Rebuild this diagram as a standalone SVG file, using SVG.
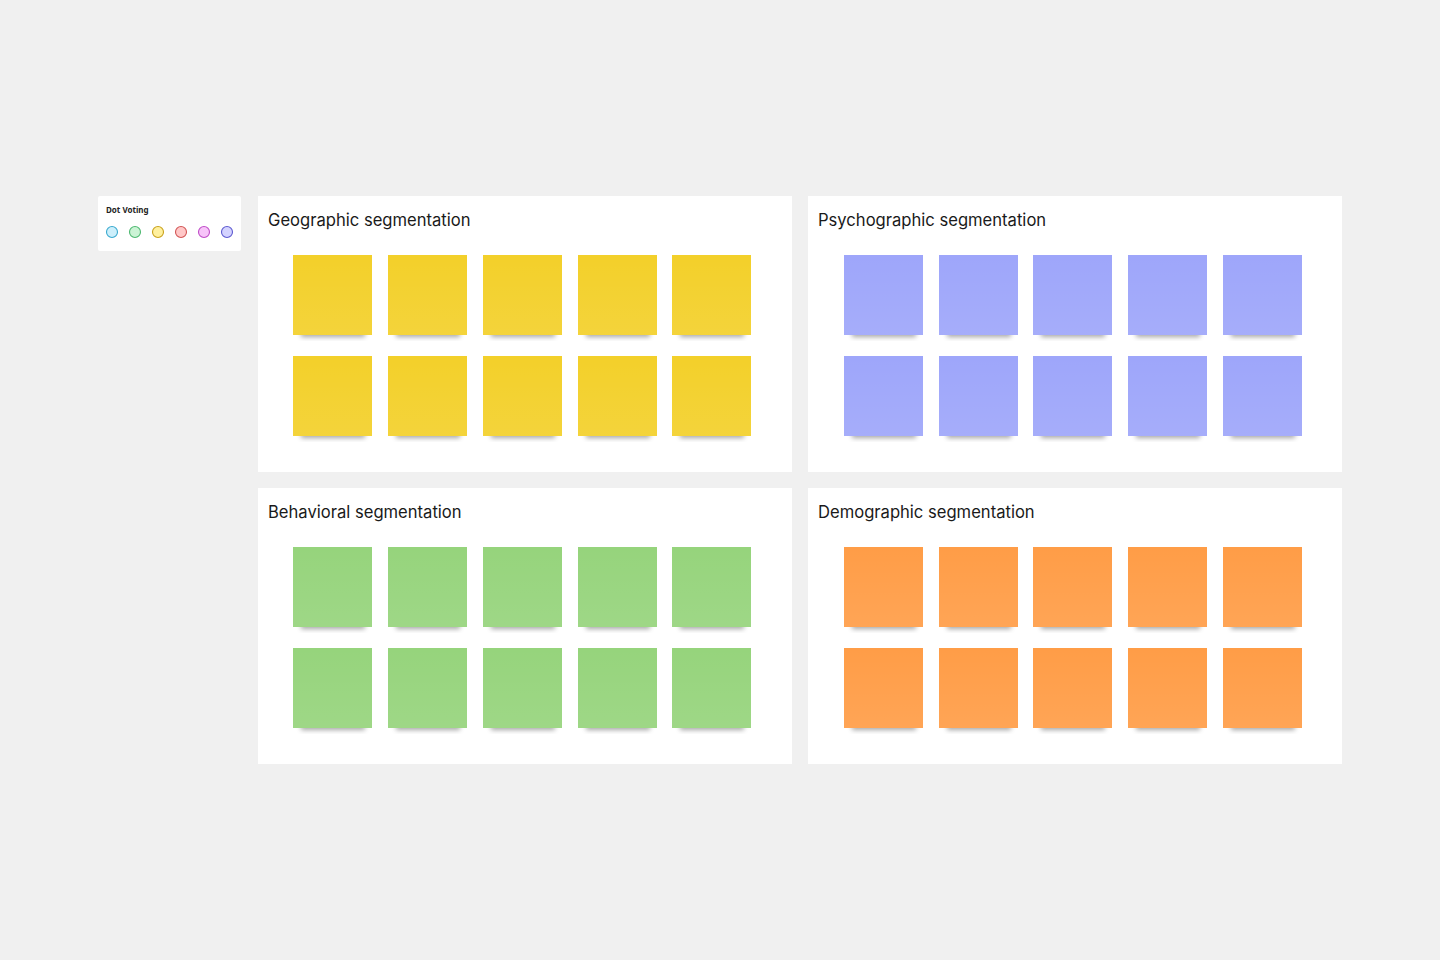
<svg xmlns="http://www.w3.org/2000/svg" width="1440" height="960" viewBox="0 0 1440 960">
<defs>
<filter id="sh" x="-20%" y="-50%" width="140%" height="200%"><feGaussianBlur stdDeviation="2.5"/></filter>
<linearGradient id="gl" x1="0" y1="0" x2="0" y2="1"><stop offset="0" stop-color="#fff" stop-opacity="0"/><stop offset="1" stop-color="#fff" stop-opacity="0.08"/></linearGradient>
<g id="note">
<rect x="8" y="74" width="64" height="8" fill="#000" opacity="0.35" filter="url(#sh)"/>
<rect x="0" y="0" width="79" height="80"/>
<rect x="0" y="0" width="79" height="80" fill="url(#gl)"/>
</g>
</defs>
<style>
.frame{fill:#ffffff}
.title{font-family:Inter,"Noto Sans",sans-serif;font-size:16.6px;fill:#1a1a1a}
.y{fill:#F3D02A}.p{fill:#9EA6FA}.g{fill:#96D47C}.o{fill:#FF9D47}
.dot{stroke-width:1.1}
</style>
<rect width="1440" height="960" fill="#F0F0F0"/>
<g id="dot-voting">
<rect x="98" y="196" width="143" height="55" rx="2" fill="#fff"/>
<text x="106" y="213" font-family="'Noto Sans',Inter,sans-serif" font-size="8" font-weight="bold" fill="#222">Dot Voting</text>
<circle class="dot" cx="112" cy="232" r="5.5" fill="#CDEFFB" stroke="#39A9CF"/>
<circle class="dot" cx="135" cy="232" r="5.5" fill="#CBF3D5" stroke="#4DB870"/>
<circle class="dot" cx="158" cy="232" r="5.5" fill="#FFF09E" stroke="#C9A11C"/>
<circle class="dot" cx="181" cy="232" r="5.5" fill="#FFC8C8" stroke="#D25555"/>
<circle class="dot" cx="204" cy="232" r="5.5" fill="#F7C4F9" stroke="#BF4DC7"/>
<circle class="dot" cx="227" cy="232" r="5.5" fill="#D4D3FF" stroke="#5D5AD0"/>
</g>
<g id="geographic">
<rect class="frame" x="258" y="196" width="534" height="276"/>
<text class="title" x="268" y="226">Geographic segmentation</text>
<g class="y">
<use href="#note" x="293" y="255"/><use href="#note" x="388" y="255"/><use href="#note" x="483" y="255"/><use href="#note" x="578" y="255"/><use href="#note" x="672" y="255"/>
<use href="#note" x="293" y="356"/><use href="#note" x="388" y="356"/><use href="#note" x="483" y="356"/><use href="#note" x="578" y="356"/><use href="#note" x="672" y="356"/>
</g>
</g>
<g id="psychographic">
<rect class="frame" x="808" y="196" width="534" height="276"/>
<text class="title" x="818" y="226">Psychographic segmentation</text>
<g class="p">
<use href="#note" x="844" y="255"/><use href="#note" x="939" y="255"/><use href="#note" x="1033" y="255"/><use href="#note" x="1128" y="255"/><use href="#note" x="1223" y="255"/>
<use href="#note" x="844" y="356"/><use href="#note" x="939" y="356"/><use href="#note" x="1033" y="356"/><use href="#note" x="1128" y="356"/><use href="#note" x="1223" y="356"/>
</g>
</g>
<g id="behavioral">
<rect class="frame" x="258" y="488" width="534" height="276"/>
<text class="title" x="268" y="518">Behavioral segmentation</text>
<g class="g">
<use href="#note" x="293" y="547"/><use href="#note" x="388" y="547"/><use href="#note" x="483" y="547"/><use href="#note" x="578" y="547"/><use href="#note" x="672" y="547"/>
<use href="#note" x="293" y="648"/><use href="#note" x="388" y="648"/><use href="#note" x="483" y="648"/><use href="#note" x="578" y="648"/><use href="#note" x="672" y="648"/>
</g>
</g>
<g id="demographic">
<rect class="frame" x="808" y="488" width="534" height="276"/>
<text class="title" x="818" y="518">Demographic segmentation</text>
<g class="o">
<use href="#note" x="844" y="547"/><use href="#note" x="939" y="547"/><use href="#note" x="1033" y="547"/><use href="#note" x="1128" y="547"/><use href="#note" x="1223" y="547"/>
<use href="#note" x="844" y="648"/><use href="#note" x="939" y="648"/><use href="#note" x="1033" y="648"/><use href="#note" x="1128" y="648"/><use href="#note" x="1223" y="648"/>
</g>
</g>
<g id="connectors"/>
</svg>
